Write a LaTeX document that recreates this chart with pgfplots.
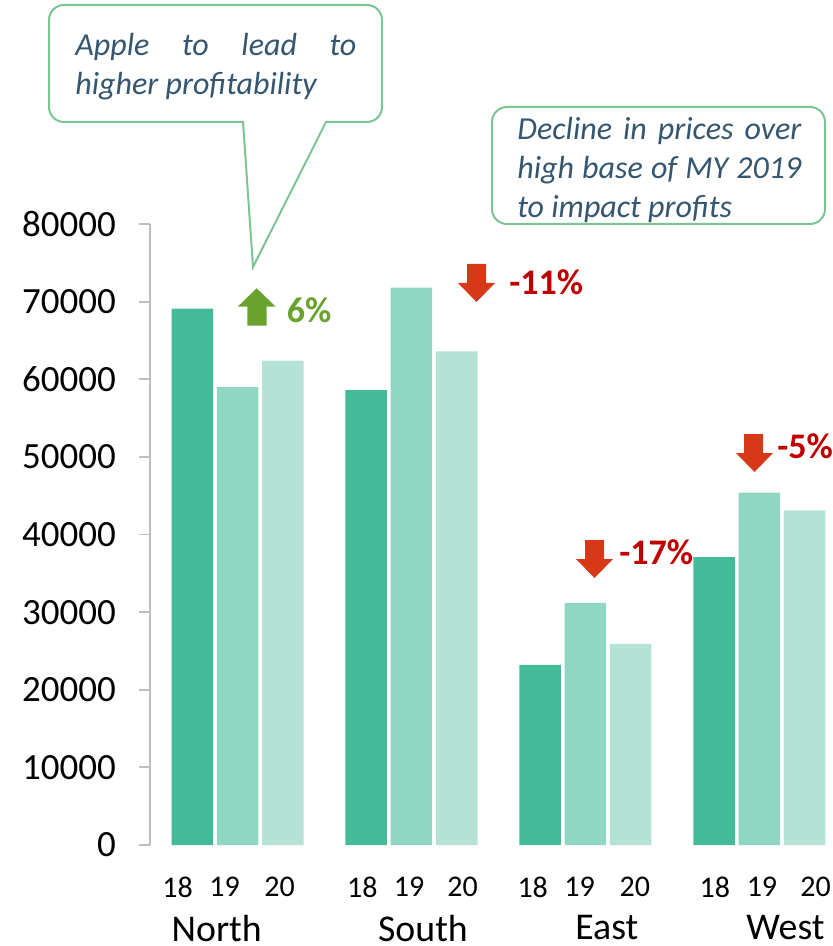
\documentclass[border=0pt]{standalone}
\usepackage{fontspec}
\setmainfont{Carlito}
\usepackage{pgfplots}
\pgfplotsset{compat=1.18}

\definecolor{c18}{RGB}{68,187,152}
\definecolor{c19}{RGB}{143,215,194}
\definecolor{c20}{RGB}{180,227,214}
\definecolor{callout}{RGB}{124,196,150}
\definecolor{ctext}{RGB}{52,86,112}
\definecolor{upgreen}{RGB}{106,162,46}
\definecolor{downred}{RGB}{214,56,24}
\definecolor{pctred}{RGB}{192,0,0}
\definecolor{axgray}{RGB}{190,190,190}

\begin{document}
\begin{tikzpicture}
\path[use as bounding box] (0,0) rectangle (416.5pt,-473pt);
\begin{axis}[
  at={(75pt,-422.5pt)}, anchor=south west,
  scale only axis, width=341.5pt, height=310.5pt,
  xmin=-0.5035, xmax=3.4235, ymin=0, ymax=80000,
  ybar=1.9pt, bar width=20.75pt,
  axis y line=left, axis x line=bottom,
  x axis line style={draw=none},
  y axis line style={-, draw=axgray, line width=0.9pt},
  ytick={0,10000,20000,30000,40000,50000,60000,70000,80000},
  ytick style={draw=axgray, line width=0.9pt},
  tick align=outside, major tick length=5.5pt,
  scaled y ticks=false,
  /pgf/number format/1000 sep={},
  /pgf/number format/assume math mode=true,
  yticklabel style={font=\fontsize{18.5}{22}\selectfont, xshift=-8pt},
  xtick={-0.345,-0.074,0.242,0.718,0.986,1.294,1.697,1.967,2.284,2.744,3.015,3.323},
  xticklabels={18,19,20,18,19,20,18,19,20,18,19,20},
  xtick style={draw=none},
  xticklabel style={font=\fontsize{15}{18}\selectfont, yshift=-7pt},
  extra x ticks={-0.120,1.066,2.123,3.150},
  extra x tick labels={North,South,East,West},
  extra x tick style={xtick style={draw=none}, xticklabel style={font=\fontsize{18.9}{22}\selectfont, inner sep=0pt, yshift=-22.5pt}},
]
\addplot[fill=c18, draw=none] coordinates {(0,69100) (1,58600) (2,23200) (3,37100)};
\addplot[fill=c19, draw=none] coordinates {(0,59000) (1,71800) (2,31200) (3,45400)};
\addplot[fill=c20, draw=none] coordinates {(0,62400) (1,63600) (2,25900) (3,43100)};
\end{axis}

\begin{scope}[x=0.5pt, y=-0.5pt]
% callout 1
\draw[callout, line width=1pt, fill=white]
  (243,122) [rounded corners=7.5pt] -- (49,122) -- (49,5) -- (382,5) -- (382,122) [sharp corners] -- (326,122) -- (253,267) -- cycle;
\node[anchor=north west, inner sep=0pt, text width=140.5pt, align=justify, text=ctext,
      font=\itshape\fontsize{16}{19.5}\selectfont]
  at (75,33) {\tolerance=10000\hyphenpenalty=10000 Apple to lead to higher profitability};
% callout 2
\draw[callout, line width=1pt, fill=white, rounded corners=7.5pt] (492,107) rectangle (825,224);
\node[anchor=north west, inner sep=0pt, text width=142pt, align=justify, text=ctext,
      font=\itshape\fontsize{16}{19.5}\selectfont]
  at (517,117) {\tolerance=10000\hyphenpenalty=10000 Decline in prices over high base of MY 2019 to impact profits};
% green up arrow
\fill[upgreen] (256.7,288.3) -- (275.7,306.7) -- (266.7,306.7) -- (266.7,325.7) -- (247.3,325.7) -- (247.3,306.7) -- (237.7,306.7) -- cycle;
\node[anchor=west, inner sep=0pt, text=upgreen, font=\bfseries\fontsize{18}{20}\selectfont] at (286.5,310) {6\%};
% red down arrows
\fill[downred] (467,264) -- (486,264) -- (486,283) -- (495,283) -- (476.5,302) -- (458,283) -- (467,283) -- cycle;
\node[anchor=west, inner sep=0pt, text=pctred, font=\bfseries\fontsize{18}{20}\selectfont] at (509,282) {-11\%};
\fill[downred] (585,540) -- (604,540) -- (604,559) -- (613,559) -- (594.5,578) -- (576,559) -- (585,559) -- cycle;
\node[anchor=west, inner sep=0pt, text=pctred, font=\bfseries\fontsize{18}{20}\selectfont] at (619,552) {-17\%};
\fill[downred] (744,434) -- (763,434) -- (763,453) -- (773,453) -- (754.5,472) -- (736,453) -- (744,453) -- cycle;
\node[anchor=west, inner sep=0pt, text=pctred, font=\bfseries\fontsize{18}{20}\selectfont] at (777,446.5) {-5\%};
\end{scope}
\end{tikzpicture}
\end{document}
